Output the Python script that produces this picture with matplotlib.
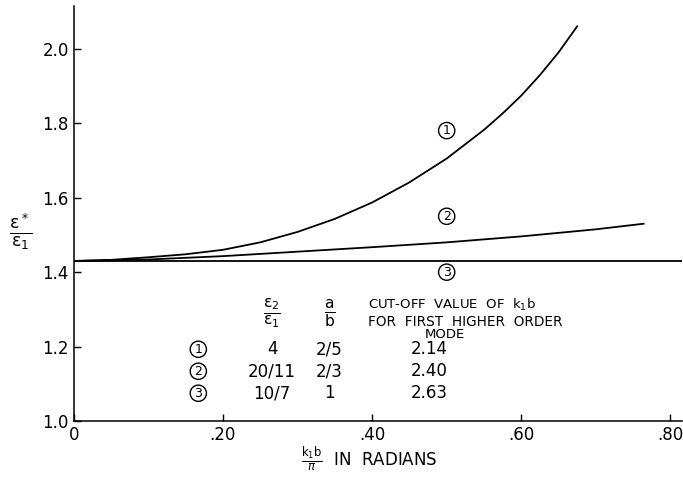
import matplotlib
matplotlib.use("Agg")
from matplotlib import pyplot as plt

# curves: k1*b/pi vs eps*/eps1
x1 = [0.0, 0.05, 0.10, 0.15, 0.20, 0.25, 0.30, 0.35, 0.40, 0.45, 0.50, 0.55, 0.575, 0.60, 0.625, 0.65, 0.675]
y1 = [1.430, 1.433, 1.440, 1.448, 1.460, 1.480, 1.508, 1.543, 1.587, 1.641, 1.705, 1.782, 1.826, 1.874, 1.929, 1.990, 2.06]

x2 = [0.0, 0.10, 0.20, 0.30, 0.40, 0.50, 0.60, 0.70, 0.764]
y2 = [1.43, 1.434, 1.443, 1.455, 1.467, 1.480, 1.496, 1.515, 1.530]

x3 = [0.0, 0.815]
y3 = [1.43, 1.43]

xticks = [0.0, 0.2, 0.4, 0.6, 0.8]
xticklabels = ['0', '.20', '.40', '.60', '.80']
yticks = [1.0, 1.2, 1.4, 1.6, 1.8, 2.0]
yticklabels = ['1.0', '1.2', '1.4', '1.6', '1.8', '2.0']

# table in the lower part of the plot
case_ids = ['1', '2', '3']
eps_ratio = ['4', '20/11', '10/7']
a_over_b = ['2/5', '2/3', '1']
cutoff = ['2.14', '2.40', '2.63']

plt.rcParams['mathtext.fontset'] = 'dejavusans'

fig = plt.figure(figsize=(6.83, 4.83), dpi=100)
ax = fig.add_axes([0.108, 0.128, 0.89, 0.86])

for xs, ys in [(x1, y1), (x2, y2), (x3, y3)]:
    ax.plot(xs, ys, color='black', lw=1.3)

ax.set_xlim(0, 0.815)
ax.set_ylim(1.0, 2.115)
ax.set_xticks(xticks)
ax.set_xticklabels(xticklabels)
ax.set_yticks(yticks)
ax.set_yticklabels(yticklabels)
ax.tick_params(direction='in', length=5, width=1, labelsize=12, colors='black')
ax.spines['top'].set_visible(False)
ax.spines['right'].set_visible(False)
for s in ['left', 'bottom']:
    ax.spines[s].set_linewidth(1.1)

circ = dict(boxstyle='circle,pad=0.13', fc='none', ec='black', lw=1)

# curve labels
ax.text(0.50, 1.78, '1', ha='center', va='center', fontsize=9, bbox=circ)
ax.text(0.50, 1.55, '2', ha='center', va='center', fontsize=9, bbox=circ)
ax.text(0.50, 1.40, '3', ha='center', va='center', fontsize=9, bbox=circ)

# table header
ax.text(0.266, 1.29, r'$\frac{\mathrm{\varepsilon_2}}{\mathrm{\varepsilon_1}}$', ha='center', va='center', fontsize=16)
ax.text(0.343, 1.29, r'$\frac{\mathrm{a}}{\mathrm{b}}$', ha='center', va='center', fontsize=16)
ax.text(0.395, 1.311, r'CUT-OFF  VALUE  OF  $\mathrm{k_1b}$', ha='left', va='center', fontsize=9.5)
ax.text(0.395, 1.266, 'FOR  FIRST  HIGHER  ORDER', ha='left', va='center', fontsize=9.8)
ax.text(0.497, 1.232, 'MODE', ha='center', va='center', fontsize=9.5)

row_y = [1.193, 1.134, 1.075]
for cid, er, ab, co, yy in zip(case_ids, eps_ratio, a_over_b, cutoff, row_y):
    ax.text(0.167, yy, cid, ha='center', va='center', fontsize=9, bbox=circ)
    ax.text(0.266, yy, er, ha='center', va='center', fontsize=12)
    ax.text(0.343, yy, ab, ha='center', va='center', fontsize=12)
    ax.text(0.477, yy, co, ha='center', va='center', fontsize=12)

# axis labels
fig.text(0.03, 0.52, r'$\frac{\mathrm{\varepsilon^*}}{\mathrm{\varepsilon_1}}$', ha='center', va='center', fontsize=18)
fig.text(0.54, 0.05, r'$\frac{\mathrm{k_1 b}}{\pi}$  IN  RADIANS', ha='center', va='center', fontsize=12)

fig.savefig('out.png', dpi=100)
